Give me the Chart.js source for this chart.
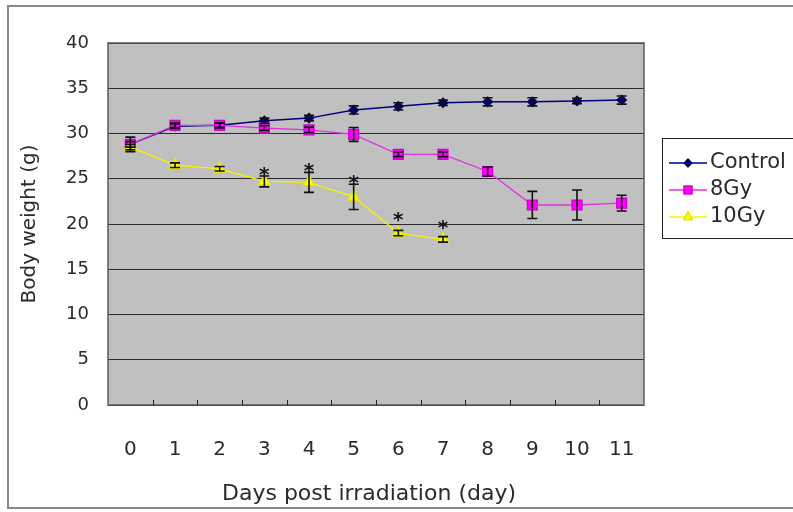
<!DOCTYPE html>
<html><head><meta charset="utf-8">
<script src="https://cdn.jsdelivr.net/npm/chart.js@4.4.1/dist/chart.umd.min.js"></script>
<style>html,body{margin:0;padding:0;background:#fff}canvas{display:block}</style>
</head><body>
<canvas id="c" width="793" height="512"></canvas>
<script>
// ---- data ----
const days = ['0','1','2','3','4','5','6','7','8','9','10','11'];
const seriesNames = ['Control', '8Gy', '10Gy'];
const xTitle = 'Days post irradiation (day)';
const yTitle = 'Body weight (g)';
const control    = [28.8, 30.8, 30.9, 31.4, 31.7, 32.6, 33.0, 33.4, 33.5, 33.5, 33.6, 33.7];
const controlErr = [0.8, 0.25, 0.25, 0.3, 0.3, 0.45, 0.4, 0.3, 0.45, 0.45, 0.3, 0.45];
const gy8        = [28.8, 30.9, 30.9, 30.6, 30.4, 29.9, 27.7, 27.7, 25.8, 22.1, 22.1, 22.3];
const gy8Err     = [0.3, 0.25, 0.25, 0.25, 0.3, 0.77, 0.25, 0.25, 0.5, 1.5, 1.65, 0.87];
const gy10       = [28.5, 26.5, 26.1, 24.7, 24.6, 23.0, 19.0, 18.3, null, null, null, null];
const gy10Err    = [0.3, 0.25, 0.25, 0.6, 1.1, 1.4, 0.3, 0.3, null, null, null, null];
// significance asterisks (10Gy), positioned in data units
const starVals   = [null, null, null, 26.0, 26.4, 25.1, 21.0, 20.1, null, null, null, null];
const yTicksMin = 0, yTicksMax = 40, yStep = 5;

const errs = [controlErr, gy8Err, gy10Err];
const TXT = '#2b2b2b';

const decor = {
  id: 'decor',
  beforeDraw(chart) {
    const {ctx, chartArea: a} = chart;
    ctx.save();
    ctx.fillStyle = '#fff';
    ctx.fillRect(0, 0, chart.width, chart.height);
    ctx.strokeStyle = '#8a8a8a';
    ctx.lineWidth = 2;
    ctx.strokeRect(8, 6, chart.width + 20, 502);
    ctx.fillStyle = '#c0c0c0';
    ctx.fillRect(a.left, a.top, a.right - a.left, a.bottom - a.top);
    ctx.restore();
  },
  beforeDatasetsDraw(chart) {
    const {ctx, chartArea: a, scales: {x}} = chart;
    ctx.save();
    ctx.strokeStyle = '#5a5a5a';
    ctx.lineWidth = 1.5;
    ctx.strokeRect(a.left, a.top, a.right - a.left, a.bottom - a.top);
    ctx.strokeStyle = '#222';
    ctx.lineWidth = 1;
    for (let i = 0; i < days.length - 1; i++) {
      const px = Math.round((x.getPixelForValue(i) + x.getPixelForValue(i + 1)) / 2) + 0.5;
      ctx.beginPath(); ctx.moveTo(px, a.bottom); ctx.lineTo(px, a.bottom - 5); ctx.stroke();
    }
    ctx.restore();
  },
  afterDatasetsDraw(chart) {
    const {ctx, scales: {x, y}} = chart;
    ctx.save();
    ctx.strokeStyle = '#111';
    ctx.lineWidth = 1.6;
    chart.data.datasets.forEach((ds, di) => {
      ds.data.forEach((v, j) => {
        const e = errs[di][j];
        if (v == null || e == null) return;
        const px = x.getPixelForValue(j);
        const t = y.getPixelForValue(v + e), b = y.getPixelForValue(v - e);
        ctx.beginPath();
        ctx.moveTo(px, t); ctx.lineTo(px, b);
        ctx.moveTo(px - 5, t); ctx.lineTo(px + 5, t);
        ctx.moveTo(px - 5, b); ctx.lineTo(px + 5, b);
        ctx.stroke();
      });
    });
    ctx.fillStyle = '#111';
    ctx.font = 'bold 20px "DejaVu Sans"';
    ctx.textAlign = 'center';
    ctx.textBaseline = 'alphabetic';
    starVals.forEach((v, j) => {
      if (v == null) return;
      ctx.fillText('*', x.getPixelForValue(j), y.getPixelForValue(v) + 11);
    });
    ctx.restore();
  },
  afterDraw(chart) {
    const {ctx} = chart;
    ctx.save();
    // x axis title
    ctx.fillStyle = TXT;
    ctx.font = '22px "DejaVu Sans"';
    ctx.textAlign = 'center';
    ctx.textBaseline = 'middle';
    ctx.fillText(xTitle, 369, 494);
    // legend
    ctx.strokeStyle = '#222';
    ctx.lineWidth = 1;
    ctx.strokeRect(662.5, 138.5, 160, 100);
    const ys = [163, 190, 217];
    chart.data.datasets.forEach((ds, i) => {
      const yy = ys[i];
      ctx.strokeStyle = ds.borderColor;
      ctx.lineWidth = ds.borderWidth;
      ctx.beginPath(); ctx.moveTo(669, yy); ctx.lineTo(707, yy); ctx.stroke();
      Chart.helpers.drawPoint(ctx, {
        pointStyle: ds.pointStyle, radius: ds.pointRadius * 0.8, rotation: 0, borderWidth: 1
      }, 688, yy);
      ctx.fillStyle = ds.backgroundColor;
      ctx.strokeStyle = ds.pointBorderColor;
      ctx.fill(); ctx.stroke();
      ctx.fillStyle = TXT;
      ctx.font = '21px "DejaVu Sans"';
      ctx.textAlign = 'left';
      ctx.textBaseline = 'middle';
      ctx.fillText(ds.label, 710, yy);
    });
    ctx.restore();
  }
};

Chart.defaults.font.family = '"DejaVu Sans", sans-serif';
Chart.defaults.color = TXT;

new Chart(document.getElementById('c'), {
  type: 'line',
  data: {
    labels: days,
    datasets: [
      { label: seriesNames[0], data: control, borderColor: '#000080', backgroundColor: '#000080',
        pointBorderColor: '#000060', pointStyle: 'rectRot', pointRadius: 4.5, borderWidth: 1.5, order: 3 },
      { label: seriesNames[1], data: gy8, borderColor: '#e030e0', backgroundColor: '#ff00ff',
        pointBorderColor: '#d000d0', pointStyle: 'rect', pointRadius: 7, borderWidth: 1.3, order: 2 },
      { label: seriesNames[2], data: gy10, borderColor: '#f4f400', backgroundColor: '#ffff00',
        pointBorderColor: '#e8e800', pointStyle: 'triangle', pointRadius: 6.5, borderWidth: 1.3, order: 1 }
    ]
  },
  options: {
    responsive: false,
    devicePixelRatio: 1,
    animation: false,
    spanGaps: false,
    layout: { padding: { top: 43, right: 149, left: 0, bottom: 0 } },
    plugins: { legend: { display: false }, tooltip: { enabled: false } },
    elements: { line: { tension: 0 } },
    scales: {
      x: {
        type: 'category', offset: true,
        grid: { display: false }, border: { display: false },
        ticks: { padding: 25, font: { size: 20 }, maxRotation: 0, autoSkip: false, color: TXT },
        title: { display: false },
        afterFit(s) { s.height = 107; }
      },
      y: {
        min: yTicksMin, max: yTicksMax,
        ticks: { stepSize: yStep, padding: 14, font: { size: 18 }, color: TXT },
        grid: { color: '#2a2a2a', lineWidth: 1, drawTicks: true, tickLength: 5, tickColor: 'rgba(0,0,0,0)' },
        border: { display: false },
        title: { display: true, text: yTitle, font: { size: 20 }, color: TXT,
                 padding: { top: 18, bottom: 0 } },
        afterFit(s) { s.width = 108; }
      }
    }
  },
  plugins: [decor]
});
</script>
</body></html>
